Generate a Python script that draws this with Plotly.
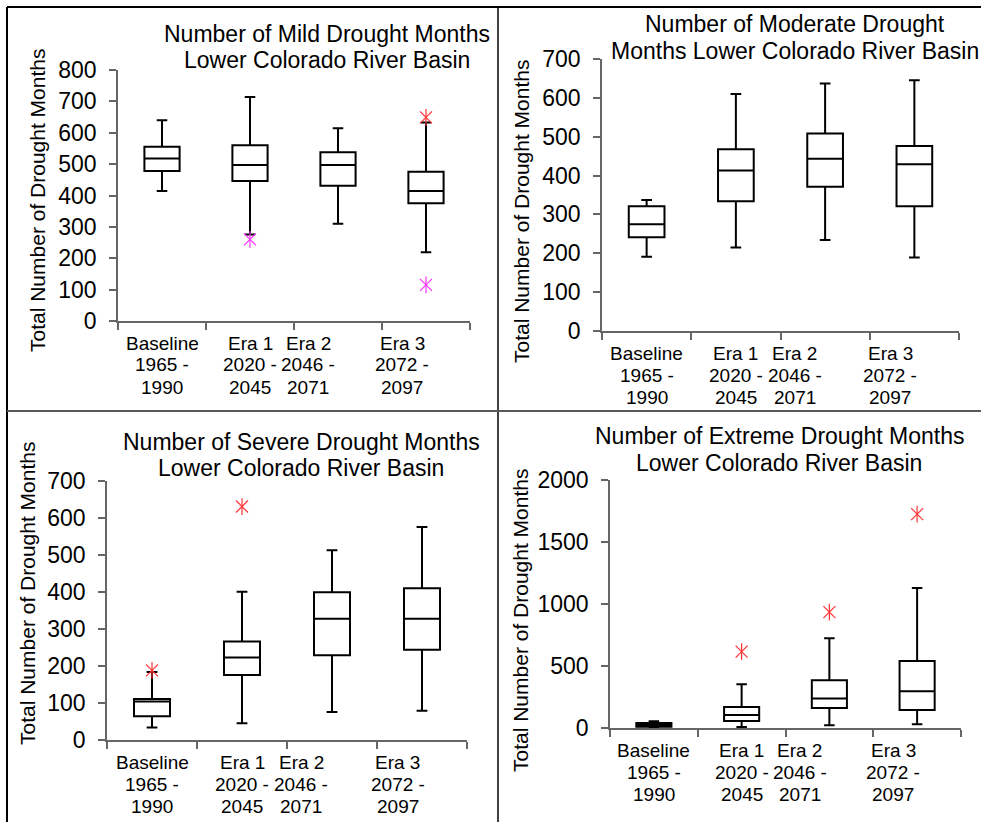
import plotly.graph_objects as go

W, H = 981, 822
FONT = "Liberation Sans, Arial, sans-serif"

# ---------------- data ----------------
categories = [0, 1, 2, 3]
tick_labels = [
    ["Baseline", "1965 -", "1990"],
    ["Era 1", "2020 -", "2045"],
    ["Era 2", "2046 -", "2071"],
    ["Era 3", "2072 -", "2097"],
]
label_pos = [0.0, 1.0, 1.66, 2.73]

titles = [
    ["Number of Mild Drought Months", "Lower Colorado River Basin"],
    ["Number of Moderate Drought", "Months Lower Colorado River Basin"],
    ["Number of Severe Drought Months", "Lower Colorado River Basin"],
    ["Number of Extreme Drought Months", "Lower Colorado River Basin"],
]
y_title = "Total Number of Drought Months"

# Mild
mild_low = [414, 276, 310, 219]
mild_q1 = [478, 446, 431, 375]
mild_med = [518, 497, 497, 414]
mild_q3 = [555, 560, 538, 476]
mild_high = [640, 714, 614, 633]
mild_out_x = [1, 3, 3]
mild_out_y = [260, 649, 115]
mild_out_c = ["#ff33ff", "#ff3333", "#ff33ff"]

# Moderate
mod_low = [191, 215, 234, 189]
mod_q1 = [241, 334, 371, 321]
mod_med = [275, 413, 443, 429]
mod_q3 = [321, 468, 508, 476]
mod_high = [337, 610, 637, 645]
mod_out_x = []
mod_out_y = []
mod_out_c = []

# Severe
sev_low = [34, 45, 76, 79]
sev_q1 = [64, 176, 229, 244]
sev_med = [104, 223, 328, 328]
sev_q3 = [111, 266, 399, 410]
sev_high = [184, 401, 513, 576]
sev_out_x = [0, 1]
sev_out_y = [188, 631]
sev_out_c = ["#ff3333", "#ff3333"]

# Extreme
ext_low = [5, 8, 22, 30]
ext_q1 = [10, 57, 161, 145]
ext_med = [25, 105, 237, 296]
ext_q3 = [40, 170, 385, 541]
ext_high = [55, 353, 724, 1130]
ext_out_x = [1, 2, 3]
ext_out_y = [616, 934, 1725]
ext_out_c = ["#ff3333", "#ff3333", "#ff3333"]

y_ranges = [[0, 800], [0, 700], [0, 700], [0, 2000]]
y_dticks = [100, 100, 100, 500]

# ---------------- layout (pixel geometry) ----------------
panels = [
    dict(x0=118, x1=470, yb=321, yt=70, tcx=327, t1=33.5, t2=60.5, ytx=38, yty=201),
    dict(x0=602, x1=959, yb=331, yt=59, tcx=795, t1=24.5, t2=51, ytx=521, yty=212),
    dict(x0=107, x1=467, yb=740, yt=481, tcx=301, t1=441.5, t2=467.5, ytx=27, yty=594),
    dict(x0=610, x1=961, yb=728, yt=480, tcx=779, t1=436, t2=463, ytx=520, yty=621),
]

stats = [
    (mild_low, mild_q1, mild_med, mild_q3, mild_high, mild_out_x, mild_out_y, mild_out_c),
    (mod_low, mod_q1, mod_med, mod_q3, mod_high, mod_out_x, mod_out_y, mod_out_c),
    (sev_low, sev_q1, sev_med, sev_q3, sev_high, sev_out_x, sev_out_y, sev_out_c),
    (ext_low, ext_q1, ext_med, ext_q3, ext_high, ext_out_x, ext_out_y, ext_out_c),
]


def px(x):
    return x / W


def py(y):
    return 1 - y / H


fig = go.Figure()
layout = dict(
    template="none",
    width=W, height=H, autosize=False,
    margin=dict(l=0, r=0, t=0, b=0, pad=0, autoexpand=False),
    paper_bgcolor="white", plot_bgcolor="white",
    showlegend=False,
    font=dict(family=FONT, color="black"),
)
annotations = []
AX = "#666666"

for i, (p, s) in enumerate(zip(panels, stats)):
    n = "" if i == 0 else str(i + 1)
    low, q1, med, q3, high, ox, oy, oc = s
    fig.add_trace(go.Box(
        x=categories, q1=q1, median=med, q3=q3, lowerfence=low, upperfence=high,
        width=0.4, whiskerwidth=0.3, boxpoints=False,
        line=dict(color="black", width=2), fillcolor="white",
        xaxis="x" + n, yaxis="y" + n, hoverinfo="skip",
    ))
    if ox:
        for sym in ["x-thin-open", "line-ns-open"]:
            fig.add_trace(go.Scatter(
                x=ox, y=oy, mode="markers",
                marker=dict(symbol=sym, size=12, color=oc,
                            line=dict(color=oc, width=1.2)),
                xaxis="x" + n, yaxis="y" + n, hoverinfo="skip",
            ))
    layout["xaxis" + n] = dict(
        domain=[px(p["x0"]), px(p["x1"])], anchor="y" + n, automargin=False,
        range=[-0.5001, 3.5001], tickvals=[-0.5, 0.5, 1.5, 2.5, 3.5],
        showticklabels=False, ticks="outside", ticklen=7, tickcolor=AX, tickwidth=1.5,
        showline=True, linecolor=AX, linewidth=1.5, showgrid=False, zeroline=False,
    )
    layout["yaxis" + n] = dict(
        domain=[py(p["yb"]), py(p["yt"])], anchor="x" + n, automargin=False,
        range=y_ranges[i], dtick=y_dticks[i], tick0=0,
        ticks="outside", ticklen=7, tickcolor=AX, tickwidth=1.5,
        showline=True, linecolor=AX, linewidth=1.5, showgrid=False, zeroline=False,
        tickfont=dict(size=23, family=FONT, color="black"),
        ticklabelstandoff=8,
    )
    # titles
    for line, yy in zip(titles[i], [p["t1"], p["t2"]]):
        annotations.append(dict(
            text=line, x=px(p["tcx"]), y=py(yy), xref="paper", yref="paper",
            xanchor="center", yanchor="middle", showarrow=False,
            font=dict(size=23, family=FONT, color="black"),
        ))
    # y title
    annotations.append(dict(
        text=y_title, x=px(p["ytx"]), y=py(p["yty"]), xref="paper", yref="paper",
        xanchor="center", yanchor="middle", showarrow=False, textangle=-90,
        font=dict(size=21, family=FONT, color="black"),
    ))
    # category labels
    for lab, lp in zip(tick_labels, label_pos):
        for k, line in enumerate(lab):
            annotations.append(dict(
                text=line, x=lp, y=py(p["yb"] + 22 + 22 * k),
                xref="x" + n, yref="paper",
                xanchor="center", yanchor="middle", showarrow=False,
                font=dict(size=19, family=FONT, color="black"),
            ))

shapes = [
    dict(type="line", xref="paper", yref="paper", x0=px(7), x1=px(7), y0=py(7), y1=py(822),
         line=dict(color="black", width=2)),
    dict(type="line", xref="paper", yref="paper", x0=px(7), x1=px(981), y0=py(7), y1=py(7),
         line=dict(color="black", width=2)),
    dict(type="line", xref="paper", yref="paper", x0=px(498), x1=px(498), y0=py(7), y1=py(822),
         line=dict(color="black", width=1.5)),
    dict(type="line", xref="paper", yref="paper", x0=px(7), x1=px(981), y0=py(411), y1=py(411),
         line=dict(color="#595959", width=2)),
]
layout["annotations"] = annotations
layout["shapes"] = shapes
fig.update_layout(**layout)
fig.write_html("out.html")
